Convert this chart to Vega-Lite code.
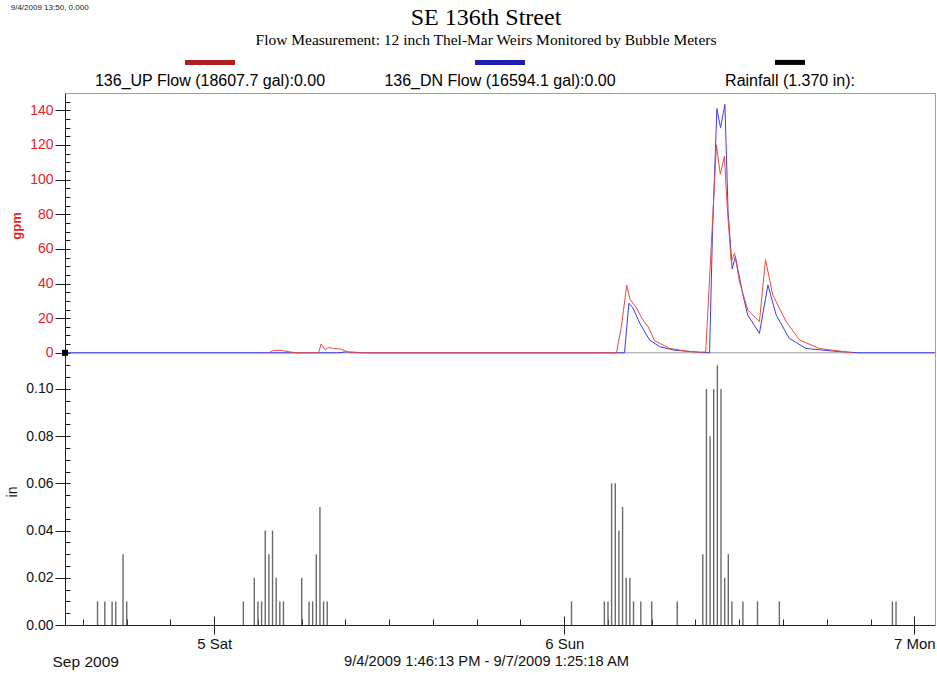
{
  "$schema": "https://vega.github.io/schema/vega-lite/v6.json",
  "background": "white",
  "padding": {"left": 5, "top": 4, "right": 2, "bottom": 4},
  "bounds": "flush",
  "spacing": 0,
  "resolve": {"scale": {"color": "independent"}},
  "config": {
    "view": {"stroke": null},
    "font": "Liberation Sans",
    "axis": {
      "grid": false,
      "labelFont": "Liberation Sans",
      "titleFont": "Liberation Sans",
      "labelFontSize": 14,
      "titleFontSize": 14,
      "domainColor": "#222",
      "tickColor": "#222",
      "labelColor": "#111",
      "titleColor": "#111",
      "labelFlush": false,
      "labelOverlap": false
    }
  },
  "title": {
    "text": "9/4/2009 13:50, 0.000",
    "anchor": "start",
    "frame": "bounds",
    "font": "Liberation Sans",
    "fontSize": 8,
    "fontWeight": "normal",
    "color": "#222",
    "dx": 5,
    "dy": 1,
    "offset": -5.5
  },
  "datasets": {
    "legend": [
      {"series": "UP", "label": "136_UP Flow (18607.7 gal):0.00"},
      {"series": "DN", "label": "136_DN Flow (16594.1 gal):0.00"},
      {"series": "RAIN", "label": "Rainfall (1.370 in):"}
    ],
    "flow": [
      {"t": "2009-09-04T13:46:13", "series": "DN", "gpm": 0},
      {"t": "2009-09-05T08:30:00", "series": "DN", "gpm": 0},
      {"t": "2009-09-05T09:00:00", "series": "DN", "gpm": 0.5},
      {"t": "2009-09-05T09:30:00", "series": "DN", "gpm": 0.4},
      {"t": "2009-09-05T10:15:00", "series": "DN", "gpm": 0},
      {"t": "2009-09-06T04:08:00", "series": "DN", "gpm": 0},
      {"t": "2009-09-06T04:26:00", "series": "DN", "gpm": 28.6},
      {"t": "2009-09-06T04:42:00", "series": "DN", "gpm": 26},
      {"t": "2009-09-06T05:11:00", "series": "DN", "gpm": 17},
      {"t": "2009-09-06T05:51:00", "series": "DN", "gpm": 7.4},
      {"t": "2009-09-06T06:33:00", "series": "DN", "gpm": 3.5},
      {"t": "2009-09-06T07:34:00", "series": "DN", "gpm": 1.5},
      {"t": "2009-09-06T09:17:00", "series": "DN", "gpm": 0.3},
      {"t": "2009-09-06T09:58:00", "series": "DN", "gpm": 0},
      {"t": "2009-09-06T10:10:00", "series": "DN", "gpm": 70},
      {"t": "2009-09-06T10:28:00", "series": "DN", "gpm": 141},
      {"t": "2009-09-06T10:43:00", "series": "DN", "gpm": 130},
      {"t": "2009-09-06T11:01:00", "series": "DN", "gpm": 143.4},
      {"t": "2009-09-06T11:14:00", "series": "DN", "gpm": 81.7},
      {"t": "2009-09-06T11:31:00", "series": "DN", "gpm": 48.5},
      {"t": "2009-09-06T11:44:00", "series": "DN", "gpm": 55.6},
      {"t": "2009-09-06T12:15:00", "series": "DN", "gpm": 33.4},
      {"t": "2009-09-06T12:35:00", "series": "DN", "gpm": 21.8},
      {"t": "2009-09-06T13:23:00", "series": "DN", "gpm": 11.2},
      {"t": "2009-09-06T13:58:00", "series": "DN", "gpm": 39.2},
      {"t": "2009-09-06T14:32:00", "series": "DN", "gpm": 21.8},
      {"t": "2009-09-06T15:26:00", "series": "DN", "gpm": 8.3},
      {"t": "2009-09-06T16:35:00", "series": "DN", "gpm": 2.5},
      {"t": "2009-09-06T18:23:00", "series": "DN", "gpm": 1},
      {"t": "2009-09-06T20:12:00", "series": "DN", "gpm": 0},
      {"t": "2009-09-07T01:25:18", "series": "DN", "gpm": 0},
      {"t": "2009-09-05T03:45:00", "series": "UP", "gpm": 0},
      {"t": "2009-09-05T04:00:00", "series": "UP", "gpm": 1.2},
      {"t": "2009-09-05T04:30:00", "series": "UP", "gpm": 1.4},
      {"t": "2009-09-05T05:00:00", "series": "UP", "gpm": 0.8},
      {"t": "2009-09-05T05:35:00", "series": "UP", "gpm": 0},
      {"t": "2009-09-05T07:09:00", "series": "UP", "gpm": 0},
      {"t": "2009-09-05T07:20:00", "series": "UP", "gpm": 5.0},
      {"t": "2009-09-05T07:38:00", "series": "UP", "gpm": 1.6},
      {"t": "2009-09-05T07:50:00", "series": "UP", "gpm": 3.1},
      {"t": "2009-09-05T08:11:00", "series": "UP", "gpm": 2.5},
      {"t": "2009-09-05T08:40:00", "series": "UP", "gpm": 2.2},
      {"t": "2009-09-05T09:00:00", "series": "UP", "gpm": 1.0},
      {"t": "2009-09-05T09:20:00", "series": "UP", "gpm": 0},
      {"t": "2009-09-06T03:35:00", "series": "UP", "gpm": 0},
      {"t": "2009-09-06T03:56:00", "series": "UP", "gpm": 16},
      {"t": "2009-09-06T04:17:00", "series": "UP", "gpm": 39},
      {"t": "2009-09-06T04:30:00", "series": "UP", "gpm": 31},
      {"t": "2009-09-06T04:57:00", "series": "UP", "gpm": 26},
      {"t": "2009-09-06T05:19:00", "series": "UP", "gpm": 20},
      {"t": "2009-09-06T05:45:00", "series": "UP", "gpm": 15},
      {"t": "2009-09-06T06:12:00", "series": "UP", "gpm": 7},
      {"t": "2009-09-06T07:14:00", "series": "UP", "gpm": 2.5},
      {"t": "2009-09-06T08:22:00", "series": "UP", "gpm": 1},
      {"t": "2009-09-06T09:17:00", "series": "UP", "gpm": 0.3},
      {"t": "2009-09-06T09:42:00", "series": "UP", "gpm": 0.5},
      {"t": "2009-09-06T10:05:00", "series": "UP", "gpm": 62},
      {"t": "2009-09-06T10:26:00", "series": "UP", "gpm": 120},
      {"t": "2009-09-06T10:42:00", "series": "UP", "gpm": 103},
      {"t": "2009-09-06T10:59:00", "series": "UP", "gpm": 113.5},
      {"t": "2009-09-06T11:10:00", "series": "UP", "gpm": 85},
      {"t": "2009-09-06T11:27:00", "series": "UP", "gpm": 52.7},
      {"t": "2009-09-06T11:41:00", "series": "UP", "gpm": 57.5},
      {"t": "2009-09-06T12:01:00", "series": "UP", "gpm": 41},
      {"t": "2009-09-06T12:35:00", "series": "UP", "gpm": 24.7},
      {"t": "2009-09-06T13:23:00", "series": "UP", "gpm": 18},
      {"t": "2009-09-06T13:48:00", "series": "UP", "gpm": 53.7},
      {"t": "2009-09-06T14:18:00", "series": "UP", "gpm": 33.4},
      {"t": "2009-09-06T15:13:00", "series": "UP", "gpm": 18},
      {"t": "2009-09-06T16:08:00", "series": "UP", "gpm": 7.4},
      {"t": "2009-09-06T17:30:00", "series": "UP", "gpm": 2.5},
      {"t": "2009-09-06T19:45:00", "series": "UP", "gpm": 0}
    ],
    "rain": [
      {"t": "2009-09-04T16:00:00", "inches": 0.01},
      {"t": "2009-09-04T16:30:00", "inches": 0.01},
      {"t": "2009-09-04T17:00:00", "inches": 0.01},
      {"t": "2009-09-04T17:15:00", "inches": 0.01},
      {"t": "2009-09-04T17:45:00", "inches": 0.03},
      {"t": "2009-09-04T18:00:00", "inches": 0.01},
      {"t": "2009-09-05T02:00:00", "inches": 0.01},
      {"t": "2009-09-05T02:45:00", "inches": 0.02},
      {"t": "2009-09-05T03:00:00", "inches": 0.01},
      {"t": "2009-09-05T03:15:00", "inches": 0.01},
      {"t": "2009-09-05T03:30:00", "inches": 0.04},
      {"t": "2009-09-05T03:45:00", "inches": 0.03},
      {"t": "2009-09-05T04:00:00", "inches": 0.04},
      {"t": "2009-09-05T04:15:00", "inches": 0.02},
      {"t": "2009-09-05T04:30:00", "inches": 0.01},
      {"t": "2009-09-05T04:45:00", "inches": 0.01},
      {"t": "2009-09-05T06:00:00", "inches": 0.02},
      {"t": "2009-09-05T06:30:00", "inches": 0.01},
      {"t": "2009-09-05T06:45:00", "inches": 0.01},
      {"t": "2009-09-05T07:00:00", "inches": 0.03},
      {"t": "2009-09-05T07:15:00", "inches": 0.05},
      {"t": "2009-09-05T07:30:00", "inches": 0.01},
      {"t": "2009-09-05T07:45:00", "inches": 0.01},
      {"t": "2009-09-06T00:30:00", "inches": 0.01},
      {"t": "2009-09-06T02:45:00", "inches": 0.01},
      {"t": "2009-09-06T03:00:00", "inches": 0.01},
      {"t": "2009-09-06T03:15:00", "inches": 0.06},
      {"t": "2009-09-06T03:30:00", "inches": 0.06},
      {"t": "2009-09-06T03:45:00", "inches": 0.04},
      {"t": "2009-09-06T04:00:00", "inches": 0.05},
      {"t": "2009-09-06T04:15:00", "inches": 0.02},
      {"t": "2009-09-06T04:30:00", "inches": 0.02},
      {"t": "2009-09-06T04:45:00", "inches": 0.01},
      {"t": "2009-09-06T05:15:00", "inches": 0.01},
      {"t": "2009-09-06T06:00:00", "inches": 0.01},
      {"t": "2009-09-06T07:45:00", "inches": 0.01},
      {"t": "2009-09-06T09:30:00", "inches": 0.03},
      {"t": "2009-09-06T09:45:00", "inches": 0.10},
      {"t": "2009-09-06T10:00:00", "inches": 0.08},
      {"t": "2009-09-06T10:15:00", "inches": 0.10},
      {"t": "2009-09-06T10:30:00", "inches": 0.11},
      {"t": "2009-09-06T10:45:00", "inches": 0.10},
      {"t": "2009-09-06T11:00:00", "inches": 0.02},
      {"t": "2009-09-06T11:15:00", "inches": 0.03},
      {"t": "2009-09-06T11:30:00", "inches": 0.01},
      {"t": "2009-09-06T12:15:00", "inches": 0.01},
      {"t": "2009-09-06T13:15:00", "inches": 0.01},
      {"t": "2009-09-06T14:45:00", "inches": 0.01},
      {"t": "2009-09-06T22:30:00", "inches": 0.01},
      {"t": "2009-09-06T22:45:00", "inches": 0.01}
    ]
  },
  "vconcat": [
    {
      "width": 870,
      "height": 36,
      "title": {
        "text": "SE 136th Street",
        "subtitle": "Flow Measurement: 12 inch Thel-Mar Weirs Monitored by Bubble Meters",
        "font": "Liberation Serif",
        "subtitleFont": "Liberation Serif",
        "fontSize": 24,
        "subtitleFontSize": 15.5,
        "fontWeight": "normal",
        "color": "#000",
        "subtitleColor": "#000",
        "subtitlePadding": 3,
        "offset": 9,
        "anchor": "middle",
        "dx": -14
      },
      "data": {"name": "legend"},
      "layer": [
        {
          "mark": {"type": "tick", "orient": "horizontal", "thickness": 5, "opacity": 1},
          "encoding": {
            "x": {"field": "series", "type": "nominal", "sort": null,
                  "scale": {"type": "band", "domain": ["UP", "DN", "RAIN"], "paddingInner": 0, "paddingOuter": 0},
                  "axis": null},
            "y": {"datum": 0.85, "type": "quantitative", "scale": {"domain": [0, 1]}, "axis": null},
            "size": {"condition": {"test": "datum.series === 'RAIN'", "value": 30}, "value": 50},
            "color": {"field": "series", "type": "nominal",
                      "scale": {"domain": ["UP", "DN", "RAIN"], "range": ["#b01e1e", "#1c1cae", "#000000"]},
                      "legend": null}
          }
        },
        {
          "mark": {"type": "text", "font": "Liberation Sans", "fontSize": 16, "baseline": "middle", "color": "#000"},
          "encoding": {
            "x": {"field": "series", "type": "nominal", "axis": null},
            "y": {"datum": 0.34, "type": "quantitative", "axis": null},
            "text": {"field": "label"}
          }
        }
      ]
    },
    {
      "width": 870,
      "height": 265,
      "resolve": {"axis": {"x": "independent", "y": "independent"}},
      "layer": [
        {
          "data": {"values": [{"gpm": 0}]},
          "mark": {"type": "rule", "color": "#9a9a9a", "strokeWidth": 1},
          "encoding": {
            "y": {"field": "gpm", "type": "quantitative",
                  "scale": {"domain": [-3, 150], "nice": false, "zero": false},
                  "axis": {"orient": "left", "values": [0,5,10,15,20,25,30,35,40,45,50,55,60,65,70,75,80,85,90,95,100,105,110,115,120,125,130,135,140,145],
                           "tickSize": -5, "labels": false, "domain": false, "title": null}}
          }
        },
        {
          "data": {"name": "flow"},
          "mark": {"type": "line", "strokeWidth": 1, "interpolate": "linear"},
          "encoding": {
            "x": {"field": "t", "type": "temporal",
                  "scale": {"domain": [{"year": 2009, "month": 9, "date": 4, "hours": 13, "minutes": 46, "seconds": 13},
                                       {"year": 2009, "month": 9, "date": 7, "hours": 1, "minutes": 25, "seconds": 18}]},
                  "axis": {"orient": "top", "domainColor": "#a0a0a0", "ticks": false, "labels": false, "title": null}},
            "y": {"field": "gpm", "type": "quantitative",
                  "scale": {"domain": [-3, 150], "nice": false, "zero": false},
                  "axis": {"orient": "left", "values": [0, 20, 40, 60, 80, 100, 120, 140], "format": "d",
                           "tickSize": 10, "labelPadding": 2, "labelColor": "#e8202a",
                           "title": "gpm", "titleColor": "#e8202a", "titleFontWeight": "bold", "titleFontSize": 13, "titlePadding": 6}},
            "color": {"field": "series", "type": "nominal",
                      "scale": {"domain": ["DN", "UP"], "range": ["#3c3cf0", "#ec4a40"]},
                      "legend": null}
          }
        },
        {
          "data": {"values": [{"t": "2009-09-04T13:46:13", "gpm": 0}]},
          "mark": {"type": "point", "shape": "square", "filled": true, "color": "#000", "size": 36, "opacity": 1},
          "encoding": {
            "x": {"field": "t", "type": "temporal", "axis": null},
            "y": {"field": "gpm", "type": "quantitative",
                  "scale": {"domain": [-3, 150], "nice": false, "zero": false},
                  "axis": {"orient": "right", "domainColor": "#a0a0a0", "ticks": false, "labels": false, "title": null}}
          }
        }
      ]
    },
    {
      "width": 870,
      "height": 267,
      "data": {"name": "rain"},
      "resolve": {"axis": {"x": "independent", "y": "independent"}},
      "layer": [
        {
          "mark": {"type": "rule", "color": "#6a6a6a", "strokeWidth": 1.4},
          "encoding": {
            "x": {"field": "t", "type": "temporal",
                  "scale": {"domain": [{"year": 2009, "month": 9, "date": 4, "hours": 13, "minutes": 46, "seconds": 13},
                                       {"year": 2009, "month": 9, "date": 7, "hours": 1, "minutes": 25, "seconds": 18}]},
                  "axis": {"orient": "bottom",
                           "values": [{"year": 2009, "month": 9, "date": 5}, {"year": 2009, "month": 9, "date": 6}, {"year": 2009, "month": 9, "date": 7}],
                           "format": "%-d %a", "formatType": "time", "labelFontSize": 15,
                           "tickSize": 9, "labelPadding": 2, "domainColor": "#222",
                           "title": "9/4/2009 1:46:13 PM - 9/7/2009 1:25:18 AM",
                           "titleFontWeight": "normal", "titleFontSize": 14.7, "titleX": 421, "titleY": 36,
                           "titleAlign": "center", "titleBaseline": "middle"}},
            "y": {"field": "inches", "type": "quantitative",
                  "scale": {"domain": [0, 0.1131], "nice": false, "zero": true},
                  "axis": {"orient": "left", "values": [0, 0.02, 0.04, 0.06, 0.08, 0.1], "format": ".2f",
                           "tickSize": 10, "labelPadding": 2,
                           "title": "in", "titleFontWeight": "normal", "titlePadding": 6}},
            "y2": {"datum": 0}
          }
        },
        {
          "mark": {"type": "rule", "opacity": 0},
          "encoding": {
            "x": {"field": "t", "type": "temporal",
                  "axis": {"orient": "bottom",
                           "values": [{"year": 2009, "month": 9, "date": 5}, {"year": 2009, "month": 9, "date": 6}, {"year": 2009, "month": 9, "date": 7}],
                           "tickSize": -9, "labels": false, "domain": false,
                           "title": "Sep 2009", "titleFontWeight": "normal", "titleFontSize": 15.5, "titleX": -13, "titleY": 36,
                           "titleAlign": "left", "titleBaseline": "middle"}},
            "y": {"field": "inches", "type": "quantitative",
                  "axis": {"orient": "left",
                           "values": [0, 0.005, 0.01, 0.015, 0.02, 0.025, 0.03, 0.035, 0.04, 0.045, 0.05, 0.055, 0.06, 0.065, 0.07, 0.075, 0.08, 0.085, 0.09, 0.095, 0.1, 0.105, 0.11],
                           "tickSize": -5, "labels": false, "domain": false, "title": null}}
          }
        },
        {
          "mark": {"type": "rule", "opacity": 0},
          "encoding": {
            "x": {"field": "t", "type": "temporal",
                  "axis": {"orient": "bottom",
                           "values": [
                             {"year": 2009, "month": 9, "date": 4, "hours": 15}, {"year": 2009, "month": 9, "date": 4, "hours": 18}, {"year": 2009, "month": 9, "date": 4, "hours": 21},
                             {"year": 2009, "month": 9, "date": 5, "hours": 3}, {"year": 2009, "month": 9, "date": 5, "hours": 6}, {"year": 2009, "month": 9, "date": 5, "hours": 9},
                             {"year": 2009, "month": 9, "date": 5, "hours": 12}, {"year": 2009, "month": 9, "date": 5, "hours": 15}, {"year": 2009, "month": 9, "date": 5, "hours": 18},
                             {"year": 2009, "month": 9, "date": 5, "hours": 21},
                             {"year": 2009, "month": 9, "date": 6, "hours": 3}, {"year": 2009, "month": 9, "date": 6, "hours": 6}, {"year": 2009, "month": 9, "date": 6, "hours": 9},
                             {"year": 2009, "month": 9, "date": 6, "hours": 12}, {"year": 2009, "month": 9, "date": 6, "hours": 15}, {"year": 2009, "month": 9, "date": 6, "hours": 18},
                             {"year": 2009, "month": 9, "date": 6, "hours": 21}
                           ],
                           "tickSize": -6, "labels": false, "domain": false, "title": null}},
            "y": {"field": "inches", "type": "quantitative",
                  "axis": {"orient": "right", "domainColor": "#a0a0a0", "ticks": false, "labels": false, "title": null}}
          }
        }
      ]
    }
  ]
}
